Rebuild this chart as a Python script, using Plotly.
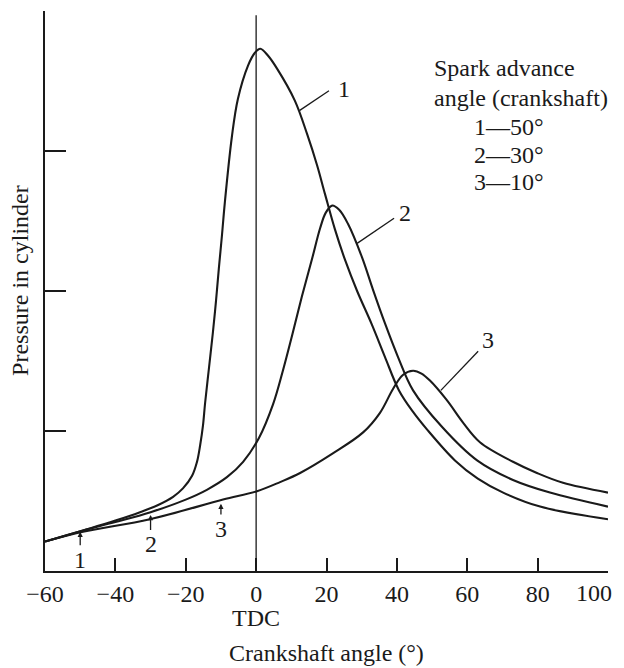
import plotly.graph_objects as go

# ---- data ----
angle1 = [-60, -49.2, -40, -33.0, -28.0, -23.6, -20.8, -18.2, -16.8, -15.9, -15.1, -14.5,
          -13.4, -12.3, -11.4, -10.6, -9.7, -8.9, -6.9, -5.2, -2.3, -0.4, 1.2, 3.4, 5.9,
          11.0, 14.5, 17.3, 19.6, 22.4, 25.3, 28.7, 32.9, 36.6, 40.6, 44.5, 48.6, 56.5, 63.0, 70.2, 80.7, 100]
pressure1 = [0.21, 0.29, 0.36, 0.42, 0.47, 0.53, 0.59, 0.68, 0.78, 0.90, 1.04, 1.20,
             1.45, 1.70, 1.93, 2.16, 2.40, 2.63, 3.10, 3.37, 3.61, 3.70, 3.73, 3.68, 3.59,
             3.36, 3.12, 2.90, 2.69, 2.44, 2.22, 2.00, 1.76, 1.53, 1.29, 1.14, 1.01, 0.79, 0.66, 0.56, 0.46, 0.37]

angle2 = [-60, -49.2, -40, -30, -20, -14.0, -8.3, -3.7, 0.8, 4.8, 7.6, 10.2, 13.0,
          15.9, 18.2, 19.8, 21.6, 23.6, 26.1, 30.1, 33.2, 36.6, 40.3, 44.6, 52.8, 62.8, 73.0, 83.5, 100]
pressure2 = [0.21, 0.29, 0.35, 0.42, 0.51, 0.58, 0.67, 0.78, 0.95, 1.19, 1.43, 1.68, 1.96,
             2.23, 2.45, 2.56, 2.61, 2.58, 2.48, 2.24, 2.01, 1.77, 1.53, 1.29, 1.03, 0.79, 0.65, 0.56, 0.46]

angle3 = [-60, -49.2, -30.2, -9.4, 0.25, 6.8, 12.5, 21.8, 30.4, 35.2, 38.9, 41.7, 44.6,
          47.0, 49.4, 54.2, 58.8, 63.6, 73.0, 79.8, 87.2, 100]
pressure3 = [0.21, 0.28, 0.37, 0.51, 0.57, 0.635, 0.70, 0.84, 0.99, 1.13, 1.30, 1.40, 1.43,
             1.41, 1.36, 1.22, 1.06, 0.92, 0.78, 0.70, 0.63, 0.56]

x_tickvals = [-60, -40, -20, 0, 20, 40, 60, 80, 100]
x_ticktext = ["\u221260", "\u221240", "\u221220", "0", "20", "40", "60", "80", "100"]
y_tickvals = [1, 2, 3, 4]

spark_angles = [-50, -30, -10]
spark_labels = ["1", "2", "3"]
legend_lines = ["Spark advance", "angle (crankshaft)", "1\u201450\u00b0", "2\u201430\u00b0", "3\u201410\u00b0"]

FONT = "Liberation Serif"
INK = "#1a1a1a"
FS = 24

fig = go.Figure()
for ang, pr in [(angle1, pressure1), (angle2, pressure2), (angle3, pressure3)]:
    fig.add_trace(go.Scatter(x=ang, y=pr, mode="lines",
                             line=dict(color=INK, width=2.1, shape="spline", smoothing=1.0),
                             hoverinfo="skip", showlegend=False))

# TDC vertical line
fig.add_shape(type="line", x0=0, x1=0, y0=0, y1=3.97, xref="x", yref="y", line=dict(color=INK, width=1.3))

# leader lines for curve labels
leaders = [((12.4, 3.29), (20.7, 3.43)), ((28.7, 2.34), (39.2, 2.52)), ((52.5, 1.29), (63.1, 1.57))]
for (x0, y0), (x1, y1) in leaders:
    fig.add_shape(type="line", x0=x0, y0=y0, x1=x1, y1=y1, xref="x", yref="y", line=dict(color=INK, width=1.3))

ann = []
curve_label_pos = [(25.0, 3.44), (42.3, 2.56), (65.9, 1.65)]
for lab, (x, y) in zip(spark_labels, curve_label_pos):
    ann.append(dict(x=x, y=y, xref="x", yref="y", text=lab, showarrow=False,
                    xanchor="center", yanchor="middle",
                    font=dict(family=FONT, size=FS, color=INK)))

# spark arrows with labels
arrow_tips = [0.28, 0.40, 0.48]
arrow_text_y = [0.08, 0.19, 0.30]
for sa, lab, tip, ty in zip(spark_angles, spark_labels, arrow_tips, arrow_text_y):
    ann.append(dict(x=sa, y=tip, xref="x", yref="y", ax=sa, ay=ty, axref="x", ayref="y", text=lab,
                    showarrow=True, arrowhead=2, arrowsize=0.8, arrowwidth=1.3, arrowcolor=INK,
                    standoff=0, startstandoff=0,
                    font=dict(family=FONT, size=FS, color=INK)))

legend_x = [50.0, 50.0, 61.3, 61.3, 61.3]
legend_y = [3.59, 3.38, 3.17, 2.97, 2.78]
for t, x, y in zip(legend_lines, legend_x, legend_y):
    ann.append(dict(x=x, y=y, xref="x", yref="y", text=t, showarrow=False, xanchor="left", yanchor="middle",
                    font=dict(family=FONT, size=FS, color=INK)))

# last tick label is drawn right-aligned near the axis end so it stays inside the page
ann.append(dict(x=x_tickvals[-1], y=-0.0395, xref="x", yref="paper", text=x_ticktext[-1], showarrow=False,
                xanchor="right", yanchor="middle", xshift=6, font=dict(family=FONT, size=FS, color=INK)))
tick_text_drawn = x_ticktext[:-1] + [""]

ann.append(dict(x=0, y=-0.084, xref="x", yref="paper", text="TDC", showarrow=False,
                xanchor="center", yanchor="middle", font=dict(family=FONT, size=FS, color=INK)))
ann.append(dict(x=0.5, y=-0.146, xref="paper", yref="paper", text="Crankshaft angle (\u00b0)", showarrow=False,
                xanchor="center", yanchor="middle", font=dict(family=FONT, size=FS, color=INK)))
ann.append(dict(x=-0.0444, y=0.518, xref="paper", yref="paper", text="Pressure in cylinder", showarrow=False,
                xanchor="center", yanchor="middle", textangle=-90, font=dict(family=FONT, size=FS, color=INK)))

# the page body adds an 8px offset, so the figure is sized to fill the rest of the window
fig.update_layout(
    width=616, height=660,
    margin=dict(l=37, r=16, t=3, b=97, autoexpand=False),
    paper_bgcolor="white", plot_bgcolor="white",
    annotations=ann,
    showlegend=False,
    xaxis=dict(range=[-60, 100], tickvals=x_tickvals, ticktext=tick_text_drawn, ticks="inside", ticklen=13,
               tickwidth=1.5, tickcolor=INK, showline=True, linecolor=INK, linewidth=1.5, showgrid=False,
               zeroline=False, tickfont=dict(family=FONT, size=FS, color=INK), fixedrange=True),
    yaxis=dict(range=[0, 4], tickvals=y_tickvals, ticks="inside", ticklen=21, tickwidth=1.5, tickcolor=INK,
               showticklabels=False, showline=True, linecolor=INK, linewidth=1.5, showgrid=False,
               zeroline=False, fixedrange=True),
)

fig.write_html("out.html")
